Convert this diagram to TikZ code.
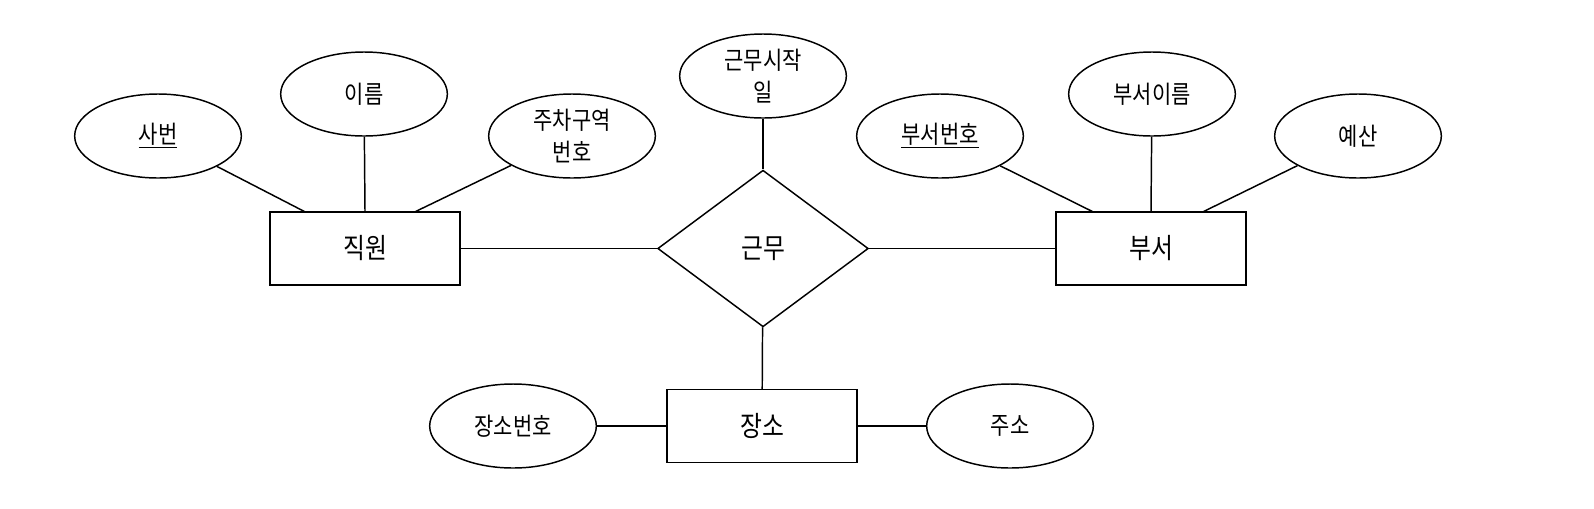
\documentclass[tikz,border=0pt]{standalone}
\usepackage{fontspec}
\setmainfont{Noto Sans CJK KR}[FakeStretch=0.85]
\usetikzlibrary{shapes.geometric}

\tikzset{every picture/.style={line width=1.1pt}}
\tikzset{
  attr/.style={draw, ellipse, minimum width=125pt, minimum height=63pt, inner sep=0pt, align=center, font=\fontsize{18.5}{24}\selectfont},
  ent/.style={draw, rectangle, minimum width=142.5pt, minimum height=54.5pt, inner sep=0pt, font=\fontsize{21}{24}\selectfont},
  rel/.style={draw, diamond, minimum width=158pt, minimum height=117.5pt, inner sep=0pt, font=\fontsize{21}{24}\selectfont}
}

\begin{document}
\begin{tikzpicture}[x=0.75pt,y=0.75pt,yscale=-1,xscale=1]
\useasboundingbox (0,0) rectangle (1594,508);

%Shape: Rectangle (entities)
\node [ent] (emp) at (365,248.5) {직원};
\node [ent] (dept) at (1151,248.5) {부서};
\node [ent] (place) at (762,426) {장소};
%Shape: Diamond (relationship)
\node [rel] (works) at (763,248.5) {근무};

%Shape: Ellipse (attributes of emp)
\node [attr] (empno) at (158,136) {\underline{사번}};
\node [attr] (empname) at (364,94) {이름};
\node [attr] (parking) at (572,136) {주차구역\\번호};
%Shape: Ellipse (attribute of works)
\node [attr] (startdate) at (763,76) {근무시작\\일};
%Shape: Ellipse (attributes of dept)
\node [attr] (deptno) at (940,136) {\underline{부서번호}};
\node [attr] (deptname) at (1152,94) {부서이름};
\node [attr] (budget) at (1358,136) {예산};
%Shape: Ellipse (attributes of place)
\node [attr] (placeno) at (513,426) {장소번호};
\node [attr] (addr) at (1010,426) {주소};

% Lines
\draw (empno) -- ([xshift=26.25pt]emp.north west);
\draw (empname) -- (emp.north);
\draw (parking) -- ([xshift=-33.75pt]emp.north east);
\draw (emp) -- (works);
\draw (works) -- (dept);
\draw (startdate) -- (works);
\draw (works) -- (place);
\draw (deptno) -- ([xshift=27.75pt]dept.north west);
\draw (deptname) -- (dept.north);
\draw (budget) -- ([xshift=-32.25pt]dept.north east);
\draw (placeno) -- (place);
\draw (place) -- (addr);

\end{tikzpicture}
\end{document}
